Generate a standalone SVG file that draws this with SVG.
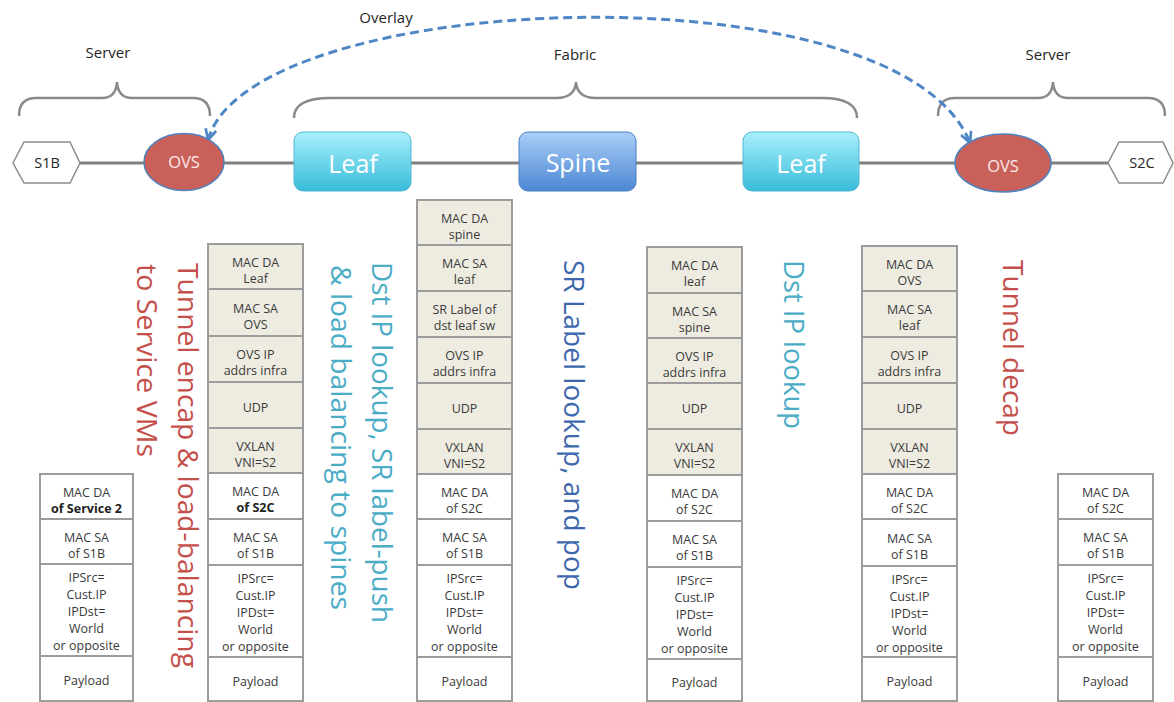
<svg xmlns="http://www.w3.org/2000/svg" width="1174" height="702" viewBox="0 0 1174 702">
<style>
.lbl{font-family:"Open Sans","Liberation Sans",sans-serif;font-size:15px;fill:#262626;text-anchor:middle}
.bracket{fill:none;stroke:#8a8a8a;stroke-width:2.5}
.wire{stroke:#808080;stroke-width:3;fill:none}
.overlay{fill:none;stroke:#4f86c6;stroke-width:3;stroke-dasharray:9 5}
.cellb{fill:#eeece1;stroke:#9c9c9c;stroke-width:2}
.cellw{fill:#ffffff;stroke:#9c9c9c;stroke-width:2}
.ct{font-family:"Open Sans","Liberation Sans",sans-serif;font-size:12.5px;fill:#3a3a3a;text-anchor:middle}
.ct .b{font-weight:bold;fill:#222}
.node{font-family:"Open Sans","Liberation Sans",sans-serif;text-anchor:middle}
.vt{font-family:"Open Sans","Liberation Sans",sans-serif;font-size:28px}
.red{fill:#c4504c}
.lblue{fill:#4bacc6}
.dblue{fill:#3d68ad}
</style>
<defs>
<linearGradient id="gLeaf" x1="0" y1="0" x2="0" y2="1">
<stop offset="0" stop-color="#a8effc"/>
<stop offset="1" stop-color="#38bcda"/>
</linearGradient>
<linearGradient id="gSpine" x1="0" y1="0" x2="0" y2="1">
<stop offset="0" stop-color="#abcff8"/>
<stop offset="1" stop-color="#4c87d4"/>
</linearGradient>
<marker id="arr" viewBox="0 0 10 10" refX="9" refY="5" markerWidth="4.5" markerHeight="4.5" orient="auto-start-reverse" markerUnits="strokeWidth">
<path d="M1,1 L9,5 L1,9" fill="none" stroke="#4f86c6" stroke-width="2"/>
</marker>
</defs>

<!-- brackets and labels -->
<text class="lbl" x="108" y="58">Server</text>
<text class="lbl" x="386" y="23">Overlay</text>
<text class="lbl" x="575" y="60">Fabric</text>
<text class="lbl" x="1048" y="60">Server</text>
<path class="bracket" d="M19,116 Q19,98 36,98 L102,98 Q116,98 117,82 Q118,98 132,98 L193,98 Q210,98 210,116"/>
<path class="bracket" d="M294,118 Q294,98 330,98 L556,98 Q575,98 576,82 Q577,98 596,98 L822,98 Q857,98 857,118"/>
<path class="bracket" d="M938,116 Q938,98 955,98 L1038,98 Q1052,98 1053,82 Q1054,98 1068,98 L1148,98 Q1165,98 1165,116"/>

<!-- connectors -->
<g id="connectors">
<line class="wire" x1="80" y1="163" x2="145" y2="163"/>
<line class="wire" x1="223" y1="163" x2="295" y2="163"/>
<line class="wire" x1="410" y1="163" x2="520" y2="163"/>
<line class="wire" x1="635" y1="163" x2="744" y2="163"/>
<line class="wire" x1="858" y1="163" x2="956" y2="163"/>
<line class="wire" x1="1050" y1="163" x2="1108" y2="163"/>
<path class="overlay" d="M208,140 C250,-12 900,-36 970,143" marker-start="url(#arr)" marker-end="url(#arr)"/>
</g>

<!-- nodes -->
<g id="s1b">
<polygon points="13,163 24,142 70,142 80,163 70,183 24,183" fill="#ffffff" stroke="#8c8c8c" stroke-width="1.5"/>
<text class="node" x="47" y="168" font-size="14.5" fill="#262626">S1B</text>
</g>
<g id="ovs-left">
<ellipse cx="184" cy="162" rx="40" ry="28.5" fill="#c9615a" stroke="#4f81bd" stroke-width="1.5"/>
<text class="node" x="184" y="168" font-size="16.5" fill="#fbeaea">OVS</text>
</g>
<g id="leaf-left">
<rect x="294" y="132" width="117" height="59" rx="9" fill="url(#gLeaf)" stroke="#53b7d3" stroke-width="1"/>
<text class="node" x="353" y="173" font-size="25" fill="#ffffff">Leaf</text>
</g>
<g id="spine">
<rect x="519" y="132" width="117" height="59" rx="9" fill="url(#gSpine)" stroke="#4a7fc4" stroke-width="1"/>
<text class="node" x="578" y="172" font-size="25" fill="#ffffff">Spine</text>
</g>
<g id="leaf-right">
<rect x="743" y="132" width="116" height="59" rx="9" fill="url(#gLeaf)" stroke="#53b7d3" stroke-width="1"/>
<text class="node" x="801" y="173" font-size="25" fill="#ffffff">Leaf</text>
</g>
<g id="ovs-right">
<ellipse cx="1003" cy="163" rx="48" ry="29" fill="#c9615a" stroke="#4f81bd" stroke-width="1.5"/>
<text class="node" x="1003" y="172" font-size="16.5" fill="#fbeaea">OVS</text>
</g>
<g id="s2c">
<polygon points="1108,163 1119,142 1163,142 1173,163 1163,183 1119,183" fill="#ffffff" stroke="#8c8c8c" stroke-width="1.5"/>
<text class="node" x="1142" y="168" font-size="14.5" fill="#262626">S2C</text>
</g>

<!-- vertical annotations -->
<text class="vt red" transform="translate(178,263) rotate(90)" textLength="405" lengthAdjust="spacingAndGlyphs">Tunnel encap &amp; load-balancing</text>
<text class="vt red" transform="translate(137,264) rotate(90)" textLength="193" lengthAdjust="spacingAndGlyphs">to Service VMs</text>
<text class="vt lblue" transform="translate(372,262) rotate(90)" textLength="361" lengthAdjust="spacingAndGlyphs">Dst IP lookup, SR label-push</text>
<text class="vt lblue" transform="translate(331,265) rotate(90)" textLength="345" lengthAdjust="spacingAndGlyphs">&amp; load balancing to spines</text>
<text class="vt dblue" transform="translate(564,260) rotate(90)" textLength="330" lengthAdjust="spacingAndGlyphs">SR Label lookup, and pop</text>
<text class="vt lblue" transform="translate(784,260) rotate(90)" textLength="169" lengthAdjust="spacingAndGlyphs">Dst IP lookup</text>
<text class="vt red" transform="translate(1003,260) rotate(90)" textLength="176" lengthAdjust="spacingAndGlyphs">Tunnel decap</text>

<!-- stack 1 -->
<g id="stack1">
<rect class="cellw" x="40" y="474" width="93" height="45"/>
<rect class="cellw" x="40" y="519" width="93" height="45"/>
<rect class="cellw" x="40" y="564" width="93" height="92"/>
<rect class="cellw" x="40" y="656" width="93" height="45"/>
<text class="ct"><tspan x="86.5" y="496.5">MAC DA</tspan><tspan class="b" x="86.5" y="512.5">of Service 2</tspan></text>
<text class="ct"><tspan x="86.5" y="541.5">MAC SA</tspan><tspan x="86.5" y="557.5">of S1B</tspan></text>
<text class="ct"><tspan x="86.5" y="582">IPSrc=</tspan><tspan x="86.5" y="599">Cust.IP</tspan><tspan x="86.5" y="616">IPDst=</tspan><tspan x="86.5" y="633">World</tspan><tspan x="86.5" y="650">or opposite</tspan></text>
<text class="ct" x="86.5" y="685">Payload</text>
</g>

<!-- stack 2 -->
<g id="stack2">
<rect class="cellb" x="208" y="244" width="95" height="45"/>
<rect class="cellb" x="208" y="289" width="95" height="47"/>
<rect class="cellb" x="208" y="336" width="95" height="46"/>
<rect class="cellb" x="208" y="382" width="95" height="46"/>
<rect class="cellb" x="208" y="428" width="95" height="45"/>
<rect class="cellw" x="208" y="473" width="95" height="46"/>
<rect class="cellw" x="208" y="519" width="95" height="46"/>
<rect class="cellw" x="208" y="565" width="95" height="92"/>
<rect class="cellw" x="208" y="657" width="95" height="44"/>
<text class="ct"><tspan x="255.5" y="266.5">MAC DA</tspan><tspan x="255.5" y="282.5">Leaf</tspan></text>
<text class="ct"><tspan x="255.5" y="312.5">MAC SA</tspan><tspan x="255.5" y="328.5">OVS</tspan></text>
<text class="ct"><tspan x="255.5" y="359">OVS IP</tspan><tspan x="255.5" y="375">addrs infra</tspan></text>
<text class="ct" x="255.5" y="411.5">UDP</text>
<text class="ct"><tspan x="255.5" y="450.5">VXLAN</tspan><tspan x="255.5" y="466.5">VNI=S2</tspan></text>
<text class="ct"><tspan x="255.5" y="496">MAC DA</tspan><tspan class="b" x="255.5" y="512">of S2C</tspan></text>
<text class="ct"><tspan x="255.5" y="542">MAC SA</tspan><tspan x="255.5" y="558">of S1B</tspan></text>
<text class="ct"><tspan x="255.5" y="583">IPSrc=</tspan><tspan x="255.5" y="600">Cust.IP</tspan><tspan x="255.5" y="617">IPDst=</tspan><tspan x="255.5" y="634">World</tspan><tspan x="255.5" y="651">or opposite</tspan></text>
<text class="ct" x="255.5" y="685.5">Payload</text>
</g>

<!-- stack 3 -->
<g id="stack3">
<rect class="cellb" x="417" y="200" width="95" height="45"/>
<rect class="cellb" x="417" y="245" width="95" height="46"/>
<rect class="cellb" x="417" y="291" width="95" height="46"/>
<rect class="cellb" x="417" y="337" width="95" height="46"/>
<rect class="cellb" x="417" y="383" width="95" height="46"/>
<rect class="cellb" x="417" y="429" width="95" height="45"/>
<rect class="cellw" x="417" y="474" width="95" height="45"/>
<rect class="cellw" x="417" y="519" width="95" height="46"/>
<rect class="cellw" x="417" y="565" width="95" height="92"/>
<rect class="cellw" x="417" y="657" width="95" height="44"/>
<text class="ct"><tspan x="464.5" y="222.5">MAC DA</tspan><tspan x="464.5" y="238.5">spine</tspan></text>
<text class="ct"><tspan x="464.5" y="268">MAC SA</tspan><tspan x="464.5" y="284">leaf</tspan></text>
<text class="ct"><tspan x="464.5" y="314">SR Label of</tspan><tspan x="464.5" y="330">dst leaf sw</tspan></text>
<text class="ct"><tspan x="464.5" y="360">OVS IP</tspan><tspan x="464.5" y="376">addrs infra</tspan></text>
<text class="ct" x="464.5" y="412.5">UDP</text>
<text class="ct"><tspan x="464.5" y="451.5">VXLAN</tspan><tspan x="464.5" y="467.5">VNI=S2</tspan></text>
<text class="ct"><tspan x="464.5" y="496.5">MAC DA</tspan><tspan x="464.5" y="512.5">of S2C</tspan></text>
<text class="ct"><tspan x="464.5" y="542">MAC SA</tspan><tspan x="464.5" y="558">of S1B</tspan></text>
<text class="ct"><tspan x="464.5" y="583">IPSrc=</tspan><tspan x="464.5" y="600">Cust.IP</tspan><tspan x="464.5" y="617">IPDst=</tspan><tspan x="464.5" y="634">World</tspan><tspan x="464.5" y="651">or opposite</tspan></text>
<text class="ct" x="464.5" y="685.5">Payload</text>
</g>

<!-- stack 4 -->
<g id="stack4">
<rect class="cellb" x="647" y="247" width="95" height="46"/>
<rect class="cellb" x="647" y="293" width="95" height="45"/>
<rect class="cellb" x="647" y="338" width="95" height="45"/>
<rect class="cellb" x="647" y="383" width="95" height="46"/>
<rect class="cellb" x="647" y="429" width="95" height="46"/>
<rect class="cellw" x="647" y="475" width="95" height="46"/>
<rect class="cellw" x="647" y="521" width="95" height="46"/>
<rect class="cellw" x="647" y="567" width="95" height="92"/>
<rect class="cellw" x="647" y="659" width="95" height="42"/>
<text class="ct"><tspan x="694.5" y="270">MAC DA</tspan><tspan x="694.5" y="286">leaf</tspan></text>
<text class="ct"><tspan x="694.5" y="315.5">MAC SA</tspan><tspan x="694.5" y="331.5">spine</tspan></text>
<text class="ct"><tspan x="694.5" y="360.5">OVS IP</tspan><tspan x="694.5" y="376.5">addrs infra</tspan></text>
<text class="ct" x="694.5" y="412.5">UDP</text>
<text class="ct"><tspan x="694.5" y="452">VXLAN</tspan><tspan x="694.5" y="468">VNI=S2</tspan></text>
<text class="ct"><tspan x="694.5" y="498">MAC DA</tspan><tspan x="694.5" y="514">of S2C</tspan></text>
<text class="ct"><tspan x="694.5" y="544">MAC SA</tspan><tspan x="694.5" y="560">of S1B</tspan></text>
<text class="ct"><tspan x="694.5" y="585">IPSrc=</tspan><tspan x="694.5" y="602">Cust.IP</tspan><tspan x="694.5" y="619">IPDst=</tspan><tspan x="694.5" y="636">World</tspan><tspan x="694.5" y="653">or opposite</tspan></text>
<text class="ct" x="694.5" y="686.5">Payload</text>
</g>

<!-- stack 5 -->
<g id="stack5">
<rect class="cellb" x="862" y="246" width="95" height="45"/>
<rect class="cellb" x="862" y="291" width="95" height="46"/>
<rect class="cellb" x="862" y="337" width="95" height="46"/>
<rect class="cellb" x="862" y="383" width="95" height="46"/>
<rect class="cellb" x="862" y="429" width="95" height="45"/>
<rect class="cellw" x="862" y="474" width="95" height="45"/>
<rect class="cellw" x="862" y="519" width="95" height="47"/>
<rect class="cellw" x="862" y="566" width="95" height="91"/>
<rect class="cellw" x="862" y="657" width="95" height="44"/>
<text class="ct"><tspan x="909.5" y="268.5">MAC DA</tspan><tspan x="909.5" y="284.5">OVS</tspan></text>
<text class="ct"><tspan x="909.5" y="314">MAC SA</tspan><tspan x="909.5" y="330">leaf</tspan></text>
<text class="ct"><tspan x="909.5" y="360">OVS IP</tspan><tspan x="909.5" y="376">addrs infra</tspan></text>
<text class="ct" x="909.5" y="412.5">UDP</text>
<text class="ct"><tspan x="909.5" y="451.5">VXLAN</tspan><tspan x="909.5" y="467.5">VNI=S2</tspan></text>
<text class="ct"><tspan x="909.5" y="496.5">MAC DA</tspan><tspan x="909.5" y="512.5">of S2C</tspan></text>
<text class="ct"><tspan x="909.5" y="542.5">MAC SA</tspan><tspan x="909.5" y="558.5">of S1B</tspan></text>
<text class="ct"><tspan x="909.5" y="583.5">IPSrc=</tspan><tspan x="909.5" y="600.5">Cust.IP</tspan><tspan x="909.5" y="617.5">IPDst=</tspan><tspan x="909.5" y="634.5">World</tspan><tspan x="909.5" y="651.5">or opposite</tspan></text>
<text class="ct" x="909.5" y="685.5">Payload</text>
</g>

<!-- stack 6 -->
<g id="stack6">
<rect class="cellw" x="1058" y="474" width="95" height="45"/>
<rect class="cellw" x="1058" y="519" width="95" height="46"/>
<rect class="cellw" x="1058" y="565" width="95" height="92"/>
<rect class="cellw" x="1058" y="657" width="95" height="44"/>
<text class="ct"><tspan x="1105.5" y="496.5">MAC DA</tspan><tspan x="1105.5" y="512.5">of S2C</tspan></text>
<text class="ct"><tspan x="1105.5" y="542">MAC SA</tspan><tspan x="1105.5" y="558">of S1B</tspan></text>
<text class="ct"><tspan x="1105.5" y="583">IPSrc=</tspan><tspan x="1105.5" y="600">Cust.IP</tspan><tspan x="1105.5" y="617">IPDst=</tspan><tspan x="1105.5" y="634">World</tspan><tspan x="1105.5" y="651">or opposite</tspan></text>
<text class="ct" x="1105.5" y="685.5">Payload</text>
</g>
</svg>
